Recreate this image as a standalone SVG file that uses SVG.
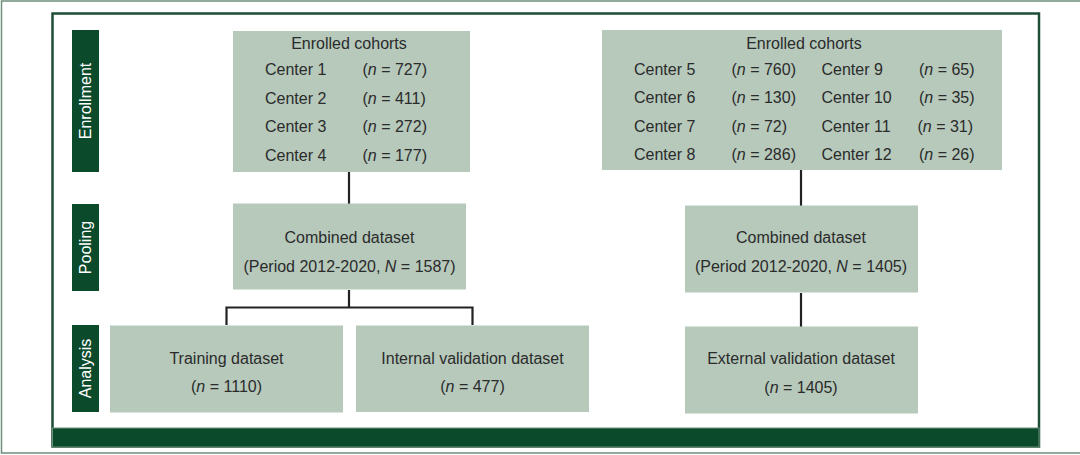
<svg xmlns="http://www.w3.org/2000/svg" width="1080" height="455" viewBox="0 0 1080 455">
<style>
.box{fill:#b6c9bb}
.side{fill:#0c4a2c}
.t{font-family:"Liberation Sans",Arial,sans-serif;font-size:16px;fill:#2b2b2b}
.c{text-anchor:middle}
.st{font-family:"Liberation Sans",Arial,sans-serif;font-size:16px;fill:#ffffff;text-anchor:middle}
.conn{fill:none;stroke:#222222;stroke-width:2.2}
</style>
<rect x="0" y="0" width="1080" height="455" fill="#ffffff"/>
<path d="M1090,1 H1.5 V453 H1090" fill="none" stroke="#6e8f7c" stroke-width="1.5"/>
<rect x="52.5" y="13.5" width="986.5" height="433" fill="#ffffff" stroke="#1e4e36" stroke-width="2.5"/>
<rect x="52.5" y="428" width="986.5" height="19" fill="#0c4a2c" stroke="#6e8f7c" stroke-width="1"/>

<g id="label-enrollment"><rect class="side" x="72" y="30" width="27" height="142"/><text class="st" transform="translate(91,101) rotate(-90)">Enrollment</text></g>
<g id="label-pooling"><rect class="side" x="72" y="204" width="27" height="87"/><text class="st" transform="translate(91,247.5) rotate(-90)">Pooling</text></g>
<g id="label-analysis"><rect class="side" x="72" y="325" width="27" height="87"/><text class="st" transform="translate(91,368.5) rotate(-90)">Analysis</text></g>

<g id="connectors">
<path class="conn" d="M349,172 V204"/>
<path class="conn" d="M349,290 V307.5 M226.5,325 V307.5 H472.5 V325"/>
<path class="conn" d="M801,170 V206"/>
<path class="conn" d="M801,293 V327"/>
</g>

<g id="enrolled-left">
<rect class="box" x="233" y="31" width="237" height="141"/>
<text class="t c" x="349" y="49">Enrolled cohorts</text>
<text class="t" x="265" y="75">Center 1</text><text class="t" x="362.5" y="75">(<tspan font-style="italic">n</tspan> = 727)</text>
<text class="t" x="265" y="103.5">Center 2</text><text class="t" x="362.5" y="103.5">(<tspan font-style="italic">n</tspan> = 411)</text>
<text class="t" x="265" y="132">Center 3</text><text class="t" x="362.5" y="132">(<tspan font-style="italic">n</tspan> = 272)</text>
<text class="t" x="265" y="161">Center 4</text><text class="t" x="362.5" y="161">(<tspan font-style="italic">n</tspan> = 177)</text>
</g>

<g id="enrolled-right">
<rect class="box" x="602" y="30" width="400" height="140"/>
<text class="t c" x="804" y="49">Enrolled cohorts</text>
<text class="t" x="634" y="75">Center 5</text><text class="t" x="731.5" y="75">(<tspan font-style="italic">n</tspan> = 760)</text>
<text class="t" x="821.5" y="75">Center 9</text><text class="t" x="919" y="75">(<tspan font-style="italic">n</tspan> = 65)</text>
<text class="t" x="634" y="103">Center 6</text><text class="t" x="731.5" y="103">(<tspan font-style="italic">n</tspan> = 130)</text>
<text class="t" x="821.5" y="103">Center 10</text><text class="t" x="919" y="103">(<tspan font-style="italic">n</tspan> = 35)</text>
<text class="t" x="634" y="131.5">Center 7</text><text class="t" x="731.5" y="131.5">(<tspan font-style="italic">n</tspan> = 72)</text>
<text class="t" x="821.5" y="131.5">Center 11</text><text class="t" x="917.5" y="131.5">(<tspan font-style="italic">n</tspan> = 31)</text>
<text class="t" x="634" y="160">Center 8</text><text class="t" x="731.5" y="160">(<tspan font-style="italic">n</tspan> = 286)</text>
<text class="t" x="821.5" y="160">Center 12</text><text class="t" x="919" y="160">(<tspan font-style="italic">n</tspan> = 26)</text>
</g>

<g id="combined-left">
<rect class="box" x="233" y="203.5" width="233" height="86"/>
<text class="t c" x="349.5" y="243">Combined dataset</text>
<text class="t c" x="349.5" y="272">(Period 2012-2020, <tspan font-style="italic">N</tspan> = 1587)</text>
</g>

<g id="combined-right">
<rect class="box" x="685" y="205.5" width="233" height="87"/>
<text class="t c" x="801" y="243">Combined dataset</text>
<text class="t c" x="801" y="272">(Period 2012-2020, <tspan font-style="italic">N</tspan> = 1405)</text>
</g>

<g id="training">
<rect class="box" x="110" y="325.5" width="233" height="87"/>
<text class="t c" x="226.5" y="363.5">Training dataset</text>
<text class="t c" x="226.5" y="392">(<tspan font-style="italic">n</tspan> = 1110)</text>
</g>

<g id="internal">
<rect class="box" x="356" y="325.5" width="233" height="86.5"/>
<text class="t c" x="472.5" y="363.5">Internal validation dataset</text>
<text class="t c" x="472.5" y="392">(<tspan font-style="italic">n</tspan> = 477)</text>
</g>

<g id="external">
<rect class="box" x="685" y="326.5" width="233" height="87"/>
<text class="t c" x="801" y="364">External validation dataset</text>
<text class="t c" x="801" y="393">(<tspan font-style="italic">n</tspan> = 1405)</text>
</g>
</svg>
